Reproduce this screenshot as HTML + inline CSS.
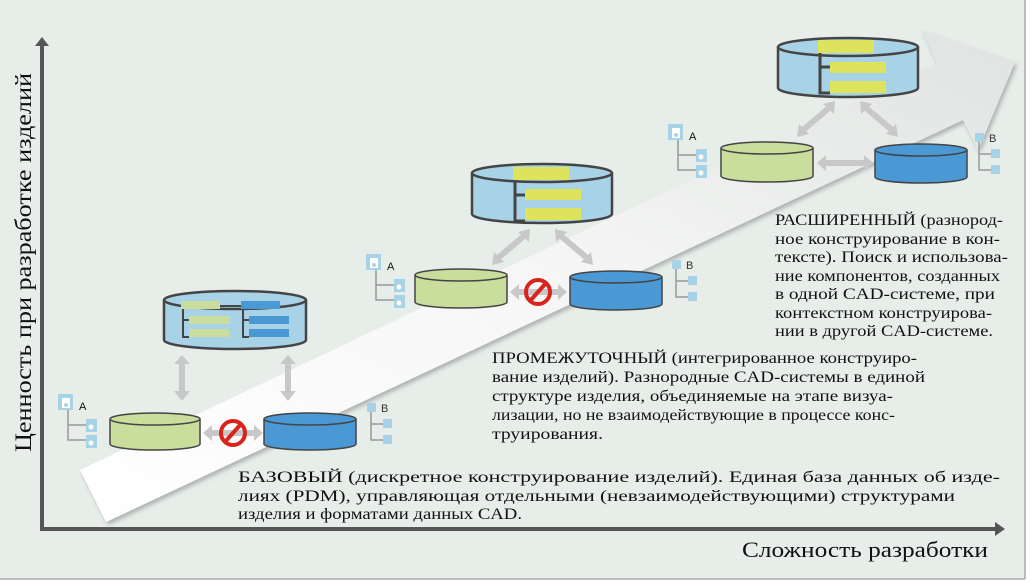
<!DOCTYPE html>
<html><head><meta charset="utf-8"><style>
html,body{margin:0;padding:0;background:#fff}
svg{display:block}
text{font-family:"Liberation Serif","DejaVu Serif",serif;fill:#111}
</style></head><body>
<svg width="1033" height="586" viewBox="0 0 1033 586" xmlns="http://www.w3.org/2000/svg">
<defs>
<linearGradient id="arr" x1="0" y1="1" x2="1" y2="0">
<stop offset="0" stop-color="#ffffff"/><stop offset="0.5" stop-color="#f5f6f5"/><stop offset="1" stop-color="#e0e3e1"/>
</linearGradient>
<filter id="sh" x="-10%" y="-10%" width="130%" height="140%"><feDropShadow dx="2" dy="3" stdDeviation="2" flood-color="#000" flood-opacity="0.25"/></filter>
</defs>
<rect x="0" y="0" width="1025" height="578" fill="#e7eeea"/>
<rect x="0" y="578" width="1033" height="8" fill="#fff"/>
<line x1="0" y1="579" x2="1025" y2="579" stroke="#bbb" stroke-width="2"/>
<line x1="1025" y1="0" x2="1025" y2="579" stroke="#bbb" stroke-width="2"/>

<!-- big arrow -->
<polygon points="80,470 937,63 922,30 1015,62 978,150 963,120 106,522" fill="url(#arr)" filter="url(#sh)"/>

<!-- axes -->
<line x1="42" y1="528" x2="42" y2="46" stroke="#555" stroke-width="4"/>
<polygon points="35,46 49,46 42,37" fill="#555"/>
<line x1="40" y1="529" x2="996" y2="529" stroke="#555" stroke-width="4"/>
<polygon points="995,522 995,536 1005,529" fill="#555"/>
<text x="742" y="557" font-size="22" textLength="246" lengthAdjust="spacingAndGlyphs">Сложность разработки</text>
<text transform="translate(31,452) rotate(-90)" font-size="23" textLength="379" lengthAdjust="spacingAndGlyphs">Ценность при разработке изделий</text>

<g stroke="#444" stroke-width="1.5">
<path d="M164,300 L164,340 A71,9 0 0 0 306,340 L306,300" fill="#a8d2e6" stroke-width="2.5"/>
<ellipse cx="235" cy="300" rx="71" ry="9" fill="#a8d2e6" stroke-width="2.5"/>
<path d="M110,419 L110,444 A45,6 0 0 0 200,444 L200,419" fill="#c9dd9c"/>
<ellipse cx="155" cy="419" rx="45" ry="6" fill="#c9dd9c"/>
<path d="M264,419 L264,444 A46,6 0 0 0 356,444 L356,419" fill="#4a98d4"/>
<ellipse cx="310" cy="419" rx="46" ry="6" fill="#4a98d4"/>
<path d="M472,173 L472,214 A70,9 0 0 0 612,214 L612,173" fill="#a8d2e6" stroke-width="2.5"/>
<ellipse cx="542" cy="173" rx="70" ry="9" fill="#a8d2e6" stroke-width="2.5"/>
<path d="M415,275 L415,302 A46,6 0 0 0 507,302 L507,275" fill="#c9dd9c"/>
<ellipse cx="461" cy="275" rx="46" ry="6" fill="#c9dd9c"/>
<path d="M570,277 L570,304 A46,6 0 0 0 662,304 L662,277" fill="#4a98d4"/>
<ellipse cx="616" cy="277" rx="46" ry="6" fill="#4a98d4"/>
<path d="M778,47 L778,88 A70,9 0 0 0 918,88 L918,47" fill="#a8d2e6" stroke-width="2.5"/>
<ellipse cx="848" cy="47" rx="70" ry="9" fill="#a8d2e6" stroke-width="2.5"/>
<path d="M721,148 L721,176 A46,6 0 0 0 813,176 L813,148" fill="#c9dd9c"/>
<ellipse cx="767" cy="148" rx="46" ry="6" fill="#c9dd9c"/>
<path d="M875,150 L875,177 A46,6 0 0 0 967,177 L967,150" fill="#4a98d4"/>
<ellipse cx="921" cy="150" rx="46" ry="6" fill="#4a98d4"/>
</g>

<g>
<rect x="181" y="301" width="39" height="8" fill="#c9dd9c"/>
<rect x="189" y="316" width="40" height="8" fill="#c9dd9c"/>
<rect x="189" y="329" width="40" height="8" fill="#c9dd9c"/>
<path d="M183,309 V337 H189 M183,320 H189 M220,306 H241" stroke="#444" stroke-width="2" fill="none"/>
<rect x="241" y="301" width="39" height="8" fill="#4a98d4"/>
<rect x="249" y="316" width="40" height="8" fill="#4a98d4"/>
<rect x="249" y="329" width="40" height="8" fill="#4a98d4"/>
<path d="M243,309 V337 H249 M243,320 H249" stroke="#444" stroke-width="2" fill="none"/>

<rect x="513" y="167" width="56" height="13" fill="#dde35a"/>
<rect x="525" y="189" width="56" height="11" fill="#dde35a"/>
<rect x="525" y="208" width="56" height="12" fill="#dde35a"/>
<path d="M515,180 V221 H525 M515,195 H525" stroke="#444" stroke-width="3" fill="none"/>

<rect x="818" y="40" width="56" height="13" fill="#dde35a"/>
<rect x="830" y="62" width="56" height="11" fill="#dde35a"/>
<rect x="830" y="81" width="56" height="12" fill="#dde35a"/>
<path d="M820,53 V93 H830 M820,67 H830" stroke="#444" stroke-width="3" fill="none"/>
</g>

<g fill="#c8c8c8">
<polygon points="182,355 190,364 185,364 185,391 190,391 182,401 174,391 179,391 179,364 174,364"/>
<polygon points="288,355 296,364 291,364 291,391 296,391 288,401 280,391 285,391 285,364 280,364"/>
<polygon points="203,433 212,425 212,430 254,430 254,425 263,433 254,441 254,436 212,436 212,441"/>
<polygon points="510,292 519,284 519,289 558,289 558,284 567,292 558,300 558,295 519,295 519,300"/>
<polygon points="817,163 826,155 826,160 864,160 864,155 873,163 864,171 864,166 826,166 826,171"/>
</g>
<g stroke="#c8c8c8" stroke-width="6" fill="none">
<line x1="524" y1="236" x2="498" y2="258"/><line x1="561" y1="236" x2="587" y2="258"/>
<line x1="829" y1="108" x2="803" y2="130"/><line x1="866" y1="108" x2="892" y2="130"/>
</g>
<g fill="#c8c8c8">
<polygon points="530,229 529,242 518,232"/><polygon points="492,265 494,252 504,262"/>
<polygon points="555,229 556,242 567,232"/><polygon points="593,265 591,252 581,262"/>
<polygon points="835,101 834,114 823,104"/><polygon points="797,137 799,124 809,134"/>
<polygon points="860,101 861,114 872,104"/><polygon points="898,137 896,124 886,134"/>
</g>

<g stroke="#d9231b" stroke-width="4" fill="none">
<circle cx="233" cy="433" r="12"/><line x1="225" y1="442" x2="241" y2="424"/>
<circle cx="538" cy="292" r="12"/><line x1="530" y1="301" x2="546" y2="283"/>
</g>

<g id="iconA">
<rect x="58" y="394" width="15" height="16" fill="#a8d2e6"/>
<rect x="62" y="398" width="8" height="10" fill="#fff"/><circle cx="66" cy="405" r="2" fill="#a8d2e6"/>
<path d="M68,410 V425 H86 M68,425 V440 H86" stroke="#999" stroke-width="1.5" fill="none"/>
<rect x="86" y="419" width="11" height="13" fill="#a8d2e6"/><circle cx="91" cy="427" r="2.5" fill="#fff"/>
<rect x="86" y="435" width="11" height="13" fill="#a8d2e6"/><circle cx="91" cy="443" r="2.5" fill="#fff"/>
<text x="79" y="410" font-size="11" style="font-family:'Liberation Sans',sans-serif">A</text>
</g>
<use href="#iconA" x="308" y="-140"/>
<use href="#iconA" x="610" y="-270"/>

<g id="iconB">
<rect x="367" y="403" width="9" height="9" fill="#a8d2e6"/>
<path d="M371,412 V424 H383 M371,424 V440 H383" stroke="#999" stroke-width="1.5" fill="none"/>
<rect x="383" y="419" width="9" height="9" fill="#a8d2e6"/>
<rect x="383" y="435" width="9" height="9" fill="#a8d2e6"/>
<text x="381" y="412" font-size="11" style="font-family:'Liberation Sans',sans-serif;fill:#333">B</text>
</g>
<use href="#iconB" x="305" y="-143"/>
<use href="#iconB" x="608" y="-270"/>

<g font-size="15.5">
<text x="775" y="225" textLength="228" lengthAdjust="spacingAndGlyphs">РАСШИРЕННЫЙ (разнород-</text>
<text x="775" y="244" textLength="225" lengthAdjust="spacingAndGlyphs">ное конструирование в кон-</text>
<text x="775" y="262" textLength="233" lengthAdjust="spacingAndGlyphs">тексте). Поиск и использова-</text>
<text x="775" y="281" textLength="225" lengthAdjust="spacingAndGlyphs">ние компонентов, созданных</text>
<text x="775" y="299" textLength="220" lengthAdjust="spacingAndGlyphs">в одной CAD-системе, при</text>
<text x="775" y="318" textLength="217" lengthAdjust="spacingAndGlyphs">контекстном конструирова-</text>
<text x="775" y="336" textLength="218" lengthAdjust="spacingAndGlyphs">нии в другой CAD-системе.</text>

<text x="492" y="363" textLength="425" lengthAdjust="spacingAndGlyphs">ПРОМЕЖУТОЧНЫЙ (интегрированное конструиро-</text>
<text x="492" y="382" textLength="433" lengthAdjust="spacingAndGlyphs">вание изделий). Разнородные CAD-системы в единой</text>
<text x="492" y="401" textLength="401" lengthAdjust="spacingAndGlyphs">структуре изделия, объединяемые на этапе визуа-</text>
<text x="492" y="420" textLength="403" lengthAdjust="spacingAndGlyphs">лизации, но не взаимодействующие в процессе конс-</text>
<text x="492" y="439" textLength="111" lengthAdjust="spacingAndGlyphs">труирования.</text>

<text x="238" y="482" textLength="762" lengthAdjust="spacingAndGlyphs">БАЗОВЫЙ (дискретное конструирование изделий). Единая база данных об изде-</text>
<text x="238" y="501" textLength="717" lengthAdjust="spacingAndGlyphs">лиях (PDM), управляющая отдельными (невзаимодействующими) структурами</text>
<text x="238" y="519" textLength="284" lengthAdjust="spacingAndGlyphs">изделия и форматами данных CAD.</text>
</g>
</svg>
</body></html>
